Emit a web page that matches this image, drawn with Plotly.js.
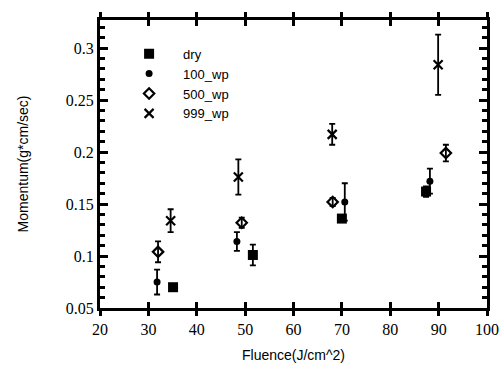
<!DOCTYPE html>
<html>
<head>
<meta charset="utf-8">
<script src="https://cdn.plot.ly/plotly-3.0.1.min.js"></script>
<style>html,body{margin:0;padding:0;background:#fff;}#chart{width:502px;height:369px;}</style>
</head>
<body>
<div id="chart"></div>
<script>
// Data
const seriesNames = ["dry", "100_wp", "500_wp", "999_wp"];
const dryX = [35.1, 51.6, 70.0, 87.4];
const dryY = [0.070, 0.101, 0.136, 0.162];
const dryErr = [0.003, 0.010, 0.003, 0.005];

const wp100X = [31.8, 48.3, 70.6, 88.2];
const wp100Y = [0.075, 0.114, 0.152, 0.172];
const wp100Err = [0.012, 0.009, 0.018, 0.012];

const wp500X = [32.0, 49.3, 68.1, 91.5];
const wp500Y = [0.104, 0.132, 0.152, 0.199];
const wp500Err = [0.010, 0.005, 0.004, 0.008];

const wp999X = [34.6, 48.6, 68.0, 89.9];
const wp999Y = [0.134, 0.176, 0.217, 0.284];
const wp999Err = [0.011, 0.017, 0.010, 0.029];

const xTickVals = [20, 30, 40, 50, 60, 70, 80, 90, 100];

const SERIF = "Liberation Serif";
const SANS = "Liberation Sans";

function mk(name, x, y, err, marker) {
  return {
    type: "scatter", mode: "markers", name: name, x: x, y: y,
    marker: marker,
    error_y: {type: "data", array: err, visible: true, color: "black", thickness: 1.8, width: 3}
  };
}

const traces = [
  mk(seriesNames[0], dryX, dryY, dryErr, {symbol: "square", size: 10, color: "black"}),
  mk(seriesNames[1], wp100X, wp100Y, wp100Err, {symbol: "circle", size: 7, color: "black"}),
  mk(seriesNames[2], wp500X, wp500Y, wp500Err, {symbol: "diamond-open", size: 8, color: "black", line: {width: 2.2, color: "black"}}),
  mk(seriesNames[3], wp999X, wp999Y, wp999Err, {symbol: "x-thin-open", size: 9, color: "black", line: {width: 2.2, color: "black"}}),
  {type: "scatter", mode: "markers", x: [20], y: [0.05], xaxis: "x2", showlegend: false, hoverinfo: "skip", marker: {opacity: 0}}
];

const layout = {
  width: 502, height: 369,
  margin: {l: 100, r: 15, t: 20, b: 61},
  showlegend: true,
  legend: {x: 0.039, y: 0.935, xanchor: "left", yanchor: "top", bgcolor: "rgba(0,0,0,0)",
           itemwidth: 58,
           font: {family: SANS, size: 13, color: "black"}},
  xaxis: {
    range: [20, 100], tickvals: xTickVals,
    ticks: "outside", ticklen: 5, tickwidth: 3, tickcolor: "black",
    showline: true, linewidth: 3, linecolor: "black", mirror: "ticks",
    showgrid: false, zeroline: false,
    tickfont: {family: SERIF, size: 16, color: "black"},
    title: {text: "Fluence(J/cm^2)", standoff: 13, font: {family: SANS, size: 14, color: "black"}}
  },
  xaxis2: {
    overlaying: "x", range: [20, 100], tickvals: xTickVals,
    ticks: "inside", ticklen: 6, tickwidth: 3, tickcolor: "black",
    showticklabels: false, showline: false, mirror: "ticks", showgrid: false, zeroline: false
  },
  yaxis: {
    range: [0.05, 0.327], dtick: 0.05, tick0: 0.05,
    ticks: "inside", ticklen: 8, tickwidth: 3, tickcolor: "black",
    minor: {dtick: 0.01, ticks: "inside", ticklen: 5, tickwidth: 2.5, tickcolor: "black", showgrid: false},
    showline: true, linewidth: 3, linecolor: "black", mirror: "ticks",
    showgrid: false, zeroline: false,
    tickfont: {family: SERIF, size: 16, color: "black"},
    title: {text: "Momentum(g*cm/sec)", standoff: 34, font: {family: SANS, size: 14, color: "black"}}
  }
};

Plotly.newPlot("chart", traces, layout, {displayModeBar: false});
</script>
</body>
</html>
